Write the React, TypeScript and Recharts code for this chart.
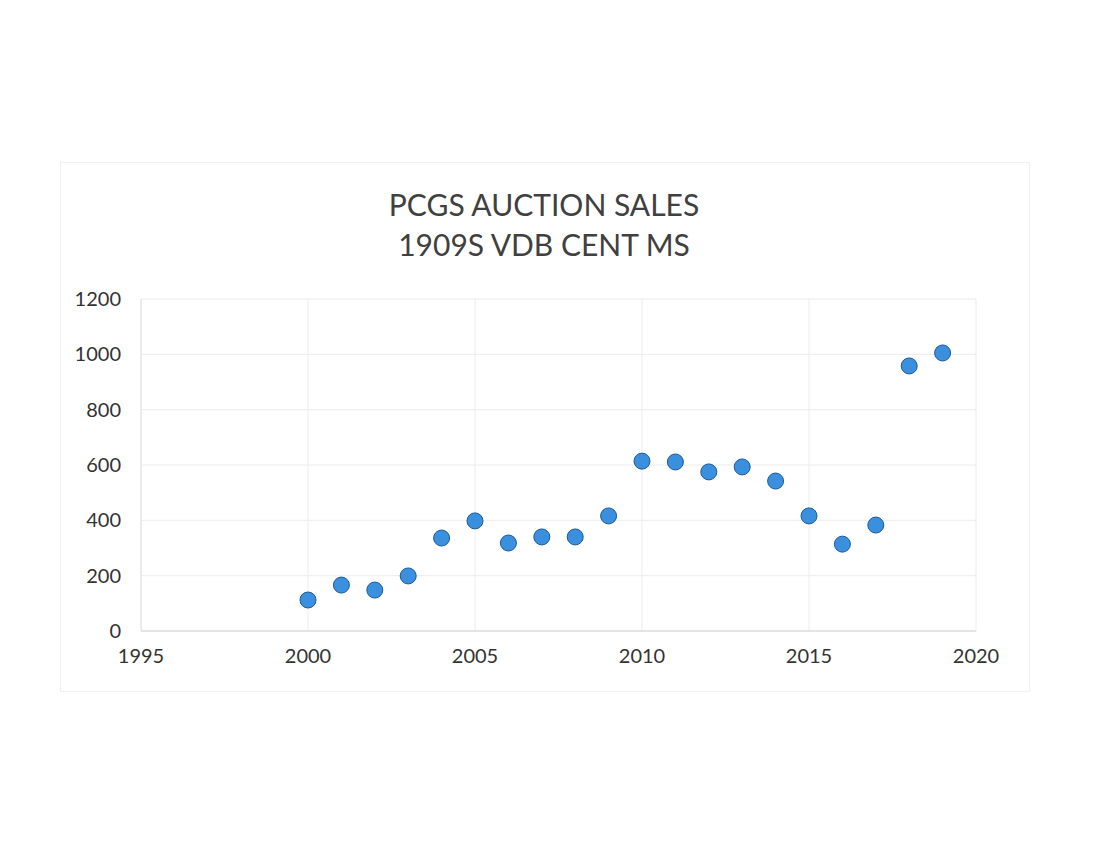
import { ScatterChart, Scatter, XAxis, YAxis, CartesianGrid } from 'recharts';

const years = [2000, 2001, 2002, 2003, 2004, 2005, 2006, 2007, 2008, 2009, 2010, 2011, 2012, 2013, 2014, 2015, 2016, 2017, 2018, 2019];
const prices = [112, 166, 148, 199, 336, 398, 318, 340, 340, 416, 614, 611, 575, 593, 542, 416, 314, 383, 958, 1005];
const xTicks = [1995, 2000, 2005, 2010, 2015, 2020];
const yTicks = [0, 200, 400, 600, 800, 1000, 1200];
const titleLines = ['PCGS AUCTION SALES', '1909S VDB CENT MS'];

const FONT = 'Lato, "Open Sans", sans-serif';

const Dot = (props: any) => (
  <circle cx={props.cx} cy={props.cy} r={8} fill="#3b8fdf" stroke="#1d5a94" strokeWidth={1} />
);

export default function App() {
  const data = years.map((y, i) => ({ year: y, price: prices[i] }));

  return (
    <div style={{ position: 'absolute', left: 0, top: 0, width: 1100, height: 850, background: '#fff', fontFamily: FONT }}>
      <div style={{ position: 'absolute', left: 60, top: 162, width: 968, height: 528, border: '1px solid #f1f1f1' }} />
      {titleLines.map((t, i) => (
        <div
          key={t}
          style={{ position: 'absolute', left: 60, width: 968, top: 186 + i * 40, textAlign: 'center', fontSize: 30, color: '#404040', lineHeight: '36px' }}
        >
          {t}
        </div>
      ))}
      <div style={{ position: 'absolute', left: 0, top: 0 }}>
        <ScatterChart width={1100} height={850} margin={{ top: 299, right: 124, bottom: 189, left: 81 }}>
          <CartesianGrid stroke="#ececec" />
          <XAxis
            type="number"
            dataKey="year"
            domain={[1995, 2020]}
            ticks={xTicks}
            axisLine={{ stroke: '#d4d4d4' }}
            tickLine={false}
            tick={{ fontSize: 20, fill: '#333', fontFamily: FONT }}
            tickMargin={12}
            height={30}
          />
          <YAxis
            type="number"
            dataKey="price"
            domain={[0, 1200]}
            ticks={yTicks}
            axisLine={{ stroke: '#e2e2e2' }}
            tickLine={false}
            tick={{ fontSize: 20, fill: '#333', fontFamily: FONT }}
            tickMargin={14}
            width={60}
          />
          <Scatter data={data} shape={Dot} isAnimationActive={false} />
        </ScatterChart>
      </div>
    </div>
  );
}
